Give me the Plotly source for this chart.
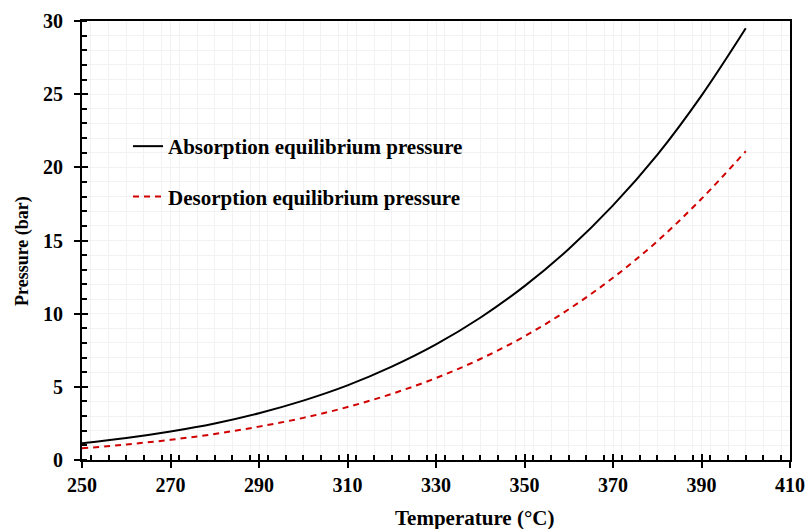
import plotly.graph_objects as go

temperature = [250, 260, 270, 280, 290, 300, 310, 320, 330, 340, 350, 360, 370, 380, 390, 400]
absorption = [1.14, 1.50, 1.95, 2.50, 3.20, 4.06, 5.10, 6.38, 7.90, 9.72, 11.88, 14.42, 17.40, 20.85, 24.90, 29.50]
desorption = [0.80, 1.06, 1.38, 1.78, 2.28, 2.88, 3.62, 4.52, 5.60, 6.90, 8.45, 10.30, 12.45, 14.95, 17.85, 21.10]

x_ticks = [250, 270, 290, 310, 330, 350, 370, 390, 410]
y_ticks = [0, 5, 10, 15, 20, 25, 30]

FONT = "Liberation Serif, Times New Roman, serif"
GRID = "#f2f2f2"

fig = go.Figure()
fig.add_trace(go.Scatter(x=temperature, y=absorption, mode="lines", line_shape="spline",
                         line=dict(color="black", width=2),
                         name="Absorption equilibrium pressure", legendgroup="a"))
fig.add_trace(go.Scatter(x=temperature, y=desorption, mode="lines", line_shape="spline",
                         line=dict(color="#d00000", width=2, dash="6px,5px"),
                         name="Desorption equilibrium pressure", legendgroup="b"))

axis_common = dict(showline=True, linecolor="black", linewidth=2, mirror=True,
                   ticks="outside", ticklen=6, tickwidth=2, tickcolor="black",
                   showgrid=True, gridcolor=GRID, gridwidth=1, zeroline=False,
                   automargin=False,
                   tickfont=dict(family=FONT, size=20, color="black", weight="bold"))

fig.update_xaxes(range=[250, 410], tickvals=x_ticks, ticklabelstandoff=0,
                 minor=dict(dtick=4, ticks="inside", ticklen=5, tickwidth=1.5, tickcolor="black",
                            showgrid=True, gridcolor=GRID, gridwidth=1),
                 **axis_common)
fig.update_yaxes(range=[0, 30], tickvals=y_ticks, ticklabelstandoff=7,
                 minor=dict(dtick=1, ticks="inside", ticklen=5, tickwidth=1.5, tickcolor="black",
                            showgrid=True, gridcolor=GRID, gridwidth=1),
                 **axis_common)

# inner halves of the major ticks (major ticks cross the axis line)
fig.update_layout(
    xaxis2=dict(overlaying="x", matches="x", side="bottom", anchor="y", range=[250, 410],
                tickvals=x_ticks, ticks="inside", ticklen=6, tickwidth=2, tickcolor="black",
                showticklabels=False, showgrid=False, showline=False, zeroline=False,
                automargin=False),
    yaxis2=dict(overlaying="y", matches="y", side="left", anchor="x", range=[0, 30],
                tickvals=y_ticks, ticks="inside", ticklen=6, tickwidth=2, tickcolor="black",
                showticklabels=False, showgrid=False, showline=False, zeroline=False,
                automargin=False),
)
fig.add_trace(go.Scatter(x=[temperature[0]], y=[absorption[0]], xaxis="x2", yaxis="y2",
                         mode="lines", showlegend=False, hoverinfo="skip",
                         line=dict(color="rgba(0,0,0,0)")))

fig.add_annotation(text="<b>Temperature (°C)</b>", xref="paper", yref="paper",
                   x=(474 - 82) / 708, y=-(518 - 460) / 439, showarrow=False,
                   xanchor="center", yanchor="middle",
                   font=dict(family=FONT, size=21, color="black"))
fig.add_annotation(text="<b>Pressure (bar)</b>", xref="paper", yref="paper",
                   x=-(82 - 23) / 708, y=(460 - 251) / 439, showarrow=False, textangle=-90,
                   xanchor="center", yanchor="middle",
                   font=dict(family=FONT, size=18, color="black"))

fig.update_layout(
    width=808, height=529,
    margin=dict(l=82, r=18, t=21, b=69),
    plot_bgcolor="white", paper_bgcolor="white",
    legend=dict(x=(128 - 82) / 708, y=(460 - 126) / 439, xanchor="left", yanchor="top",
                bgcolor="rgba(0,0,0,0)", traceorder="grouped", tracegroupgap=20,
                font=dict(family=FONT, size=21, color="black", weight="bold")),
    showlegend=True,
)

fig.write_html("out.html")
